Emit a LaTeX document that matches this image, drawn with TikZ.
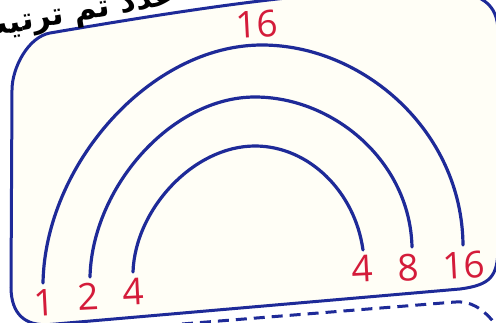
\documentclass[tikz,border=0pt]{standalone}
\usepackage{fontspec}
\setmainfont{Open Sans}
\newfontfamily\arabicfont[Script=Arabic]{DejaVu Sans}
\TeXXeTstate=1
\definecolor{lineblue}{RGB}{30,42,152}
\definecolor{numred}{RGB}{212,28,58}
\definecolor{paper}{RGB}{255,254,246}
\begin{document}
\begin{tikzpicture}[x=1pt,y=-1pt,
  frame/.style={draw=lineblue,line width=3pt},
  rainbow/.style={draw=lineblue,line width=3.2pt,line cap=round},
  dashline/.style={draw=lineblue,line width=3pt,dash pattern=on 11pt off 7pt},
  num/.style={text=numred,inner sep=0pt,font=\fontsize{37}{40}\selectfont,rotate=3}]
\useasboundingbox (0,0) rectangle (496,322);
\fill[white] (0,0) rectangle (496,322);
\begin{scope}
\clip (0,0) rectangle (496,322);
% frame
\path[frame,fill=paper] (12,90) .. controls (12,68) and (28,37) .. (50,33)
  .. controls (150,16) and (250,0) .. (330,-6)
  -- (440,-10) .. controls (482,-8) and (498,4) .. (498,32)
  -- (498,247) .. controls (498,277) and (490,285) .. (460,289)
  -- (50,324.5) .. controls (25,326.5) and (11,314) .. (11,287) -- cycle;
% dashed line below
\draw[dashline] (182,324) -- (455,302) .. controls (470,301) and (482,307) .. (497,326);
% Arabic heading (cut off)
\node[anchor=base east,inner sep=0pt,rotate=10,font=\arabicfont\bfseries\fontsize{31}{34}\selectfont] (title) at (176,4) {\beginR عدد ثم ترتيب\endR};
\end{scope}
% arcs
\draw[rainbow] (43,283) .. controls (45,165) and (150,45) .. (262,45)
  .. controls (362,45) and (462,130) .. (463,245);
\draw[rainbow] (90,277) .. controls (92,188) and (171,97) .. (255,97)
  .. controls (333,97) and (410,161) .. (412,247);
\draw[rainbow] (133,272) .. controls (135,210) and (193,146) .. (255,146)
  .. controls (309,146) and (355,192) .. (363,250);
% numbers
\node[num] (t16) at (257,24) {16};
\node[num] (l1) at (44,303) {1};
\node[num] (l2) at (88,297) {2};
\node[num] (l4) at (133,292) {4};
\node[num] (r4) at (362,269) {4};
\node[num] (r8) at (408,268) {8};
\node[num] (r16) at (464,265) {16};
\end{tikzpicture}
\end{document}
